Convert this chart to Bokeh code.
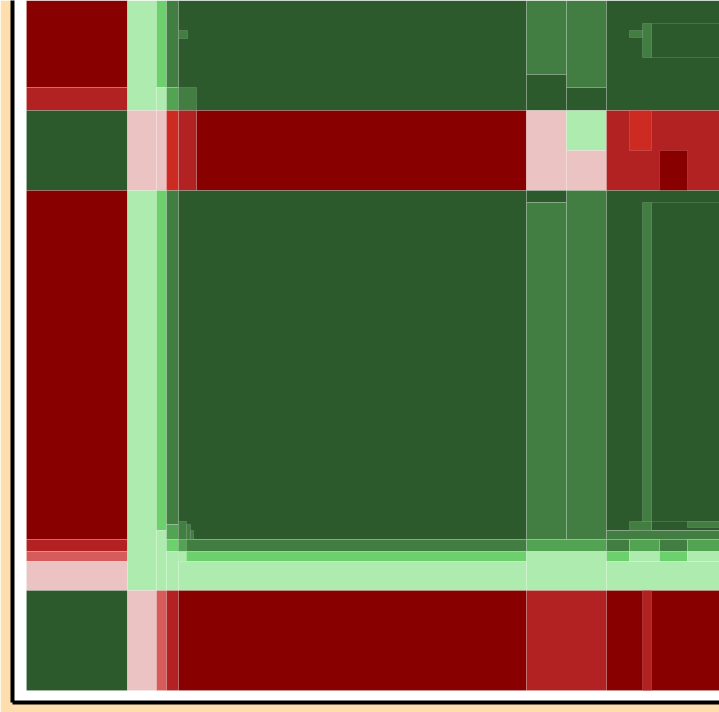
from bokeh.plotting import figure
from bokeh.models import ColumnDataSource, LinearColorMapper, Range1d, FixedTicker
from bokeh.transform import transform
from bokeh.embed import file_html
from bokeh.resources import INLINE

# cell rectangles (drawn in order, later ones on top)
x0 = [26, 26, 26, 26, 26, 26, 26, 26,
      127, 127, 127, 127,
      156, 156, 156, 156, 156, 156,
      166, 166, 166, 166, 166, 166, 166, 166,
      178, 178, 178, 178, 196, 178, 178, 186, 190, 178, 178, 178, 178, 178, 178,
      526, 526, 526, 526, 526,
      566, 566, 566, 566, 566,
      526, 526, 526,
      606, 629, 642, 651,
      606, 629, 659,
      606, 642, 651, 629, 687,
      606, 606, 629, 659, 687, 606, 629, 659, 687,
      606, 606, 642]
x1 = [127, 127, 127, 127, 127, 127, 127, 127,
      156, 156, 156, 156,
      166, 166, 166, 166, 166, 166,
      178, 178, 178, 178, 178, 178, 178, 178,
      526, 187, 196, 196, 526, 526, 186, 190, 193, 526, 186, 526, 186, 526, 526,
      566, 566, 566, 566, 566,
      606, 606, 606, 606, 606,
      606, 606, 606,
      720, 642, 651, 720,
      720, 651, 687,
      720, 651, 720, 651, 720,
      720, 629, 659, 687, 720, 629, 659, 687, 720,
      720, 720, 651]
y0 = [613, 590, 510, 161, 149, 139, 110, 10,
      590, 510, 110, 10,
      613, 590, 510, 170, 110, 10,
      613, 590, 510, 176, 161, 149, 110, 10,
      590, 662, 590, 510, 510, 161, 161, 161, 161, 149, 149, 139, 139, 110, 10,
      626, 590, 510, 498, 161,
      613, 590, 550, 510, 161,
      149, 110, 10,
      590, 663, 643, 643,
      510, 550, 510,
      170, 170, 179, 170, 173,
      161, 149, 149, 149, 149, 139, 139, 139, 139,
      110, 10, 10]
y1 = [700, 613, 590, 510, 161, 149, 139, 110,
      700, 590, 510, 110,
      700, 613, 590, 510, 170, 110,
      700, 613, 590, 510, 176, 161, 149, 110,
      700, 670, 613, 590, 590, 510, 179, 176, 170, 161, 161, 149, 149, 139, 110,
      700, 626, 590, 510, 498,
      700, 613, 590, 550, 510,
      161, 149, 110,
      700, 670, 677, 677,
      590, 590, 550,
      510, 498, 498, 179, 179,
      170, 161, 161, 161, 161, 149, 149, 149, 149,
      139, 110, 110]
level = [-5, -4, 5, -5, -4, -2, -1, 5,
         1, -1, 1, -1,
         2, 1, -1, 2, 1, -2,
         4, 3, -3, 4, 3, 2, 1, -4,
         5, 4, 4, -4, -5, 5, 4, 4, 4, 4, 3, 2, 1, 1, -5,
         4, 5, -1, 5, 4,
         4, 5, 1, -1, 4,
         3, 1, -4,
         5, 4, 4, 5,
         -4, -3, -5,
         5, 4, 5, 4, 4,
         4, 4, 3, 4, 3, 2, 1, 2, 1,
         1, -5, -4]

palette = ["#880000", "#B22222", "#CD2A22", "#D65C5C", "#EBC3C3", "#FFFFFF",
           "#AEEBAE", "#6CD06C", "#52A352", "#427E42", "#2D5A2D"]

src = ColumnDataSource(dict(left=x0, right=x1, bottom=y0, top=y1, level=level))
mapper = LinearColorMapper(palette=palette, low=-5.5, high=5.5)

p = figure(width=719, height=712, output_backend="svg", toolbar_location=None,
           x_range=Range1d(12, 719), y_range=Range1d(-2, 700),
           min_border_left=12, min_border_right=0, min_border_top=0, min_border_bottom=10)
p.border_fill_color = "#FFDEAD"
p.background_fill_color = "white"
p.outline_line_color = None
p.grid.visible = False

p.quad(left="left", right="right", bottom="bottom", top="top", source=src,
       fill_color=transform("level", mapper), line_color="white", line_alpha=0.14, line_width=1)

for ax in (p.xaxis[0], p.yaxis[0]):
    ax.ticker = FixedTicker(ticks=[])
    ax.axis_line_color = "black"
    ax.axis_line_width = 4
    ax.major_tick_line_color = None
    ax.minor_tick_line_color = None
    ax.major_tick_out = 0
    ax.major_tick_in = 0
    ax.minor_tick_out = 0
    ax.major_label_standoff = 0
    ax.major_label_text_font_size = "0px"

open("out.html", "w").write(file_html(p, INLINE))
